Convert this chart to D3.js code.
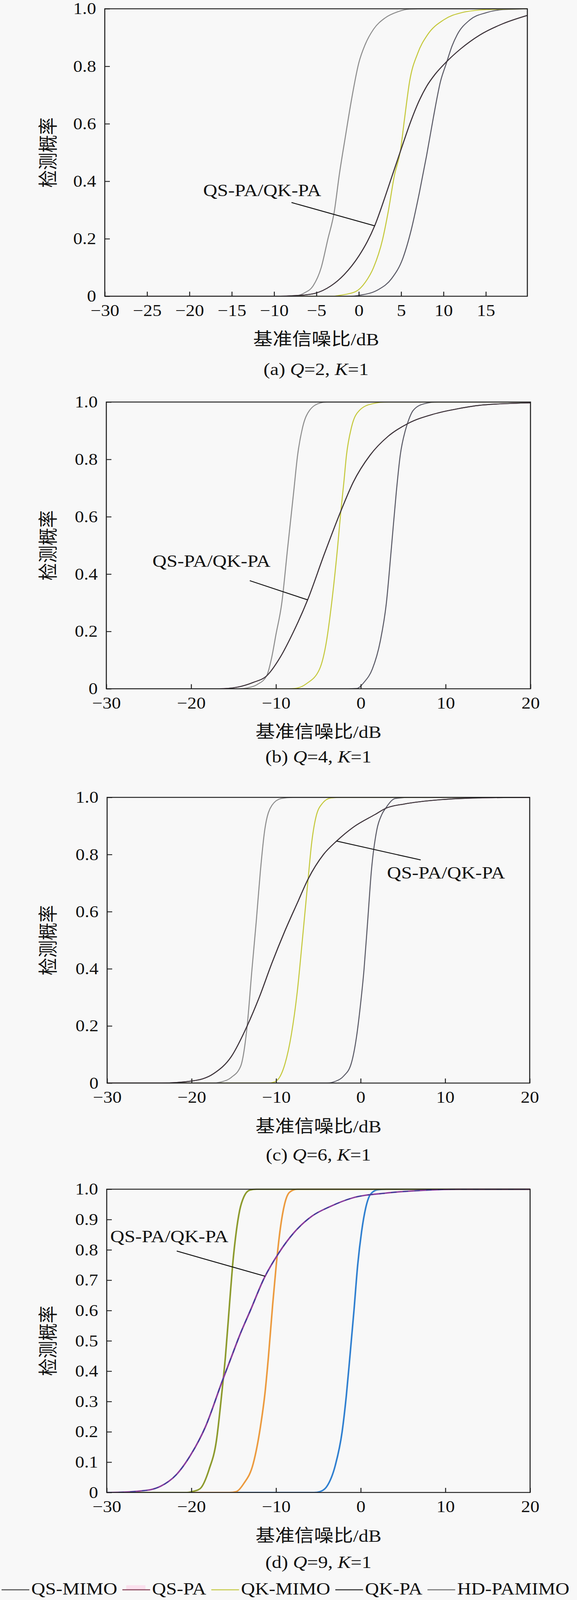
<!DOCTYPE html>
<html>
<head>
<meta charset="utf-8">
<script src="https://cdn.jsdelivr.net/npm/d3@7"></script>
<style>
  html, body { margin: 0; background: #f8f8f8; overflow: hidden; }
  svg { display: block; }
  text { font-family: "Liberation Serif", "Times New Roman", "Noto Sans CJK SC", serif; fill: #111; }
</style>
</head>
<body>
<svg id="chart" width="1476" height="4553"></svg>
<script>
// ---- data: [SNR dB, detection probability] ----
// (a) Q=2
var hdA = [[-30,0],[-8,0],[-7,0.004],[-6.4,0.012],[-5.4,0.036],[-4.44,0.10],[-3.67,0.197],[-2.9,0.294],[-2.3,0.424],[-1.6,0.553],[-0.87,0.683],[0,0.812],[0.77,0.877],[1.74,0.929],[3.09,0.968],[4.63,0.99],[6,0.999],[8,1],[19.9,1]];
var qkMimoA = [[-30,0],[-3,0],[-2.3,0.003],[-0.39,0.016],[0.77,0.049],[1.74,0.10],[2.8,0.197],[3.47,0.294],[4.2,0.42],[4.92,0.508],[5.4,0.618],[6,0.748],[6.95,0.845],[8.1,0.909],[10,0.961],[12.2,0.987],[15.1,0.997],[19.9,1]];
var qsMimoA = [[-30,0],[-1,0],[0,0.003],[2.3,0.023],[3.86,0.061],[5.21,0.133],[6.18,0.23],[7.14,0.359],[8,0.489],[8.78,0.618],[9.65,0.748],[10.33,0.81],[11,0.87],[11.6,0.909],[13.1,0.961],[15.1,0.987],[17,0.997],[19.9,1]];
var paA = [[-30,0],[-10,0],[-7.1,0.003],[-5.2,0.01],[-3.3,0.036],[-1.74,0.075],[0,0.14],[1,0.19],[1.87,0.245],[3.09,0.345],[4,0.425],[4.92,0.505],[6.18,0.612],[7,0.672],[8,0.73],[9,0.772],[10.33,0.815],[12,0.86],[14.3,0.909],[17,0.948],[19.9,0.977]];
// (b) Q=4
var hdB = [[-30,0],[-14.5,0],[-13.4,0.003],[-12.2,0.015],[-11.1,0.045],[-10.5,0.11],[-10,0.19],[-9.33,0.296],[-8.63,0.49],[-7.92,0.685],[-7.45,0.815],[-6.86,0.912],[-6.04,0.971],[-4.75,0.997],[-4,1],[20,1]];
var qkMimoB = [[-30,0],[-8.5,0],[-7.8,0.001],[-6.4,0.018],[-4.86,0.069],[-4.04,0.167],[-3.45,0.296],[-2.75,0.49],[-2.35,0.62],[-2,0.72],[-1.69,0.815],[-1.1,0.912],[-0.16,0.971],[1.36,0.994],[3.2,1],[20,1]];
var qsMimoB = [[-30,0],[-1.5,0],[-0.5,0.001],[0.42,0.024],[1.36,0.069],[2.3,0.167],[3,0.296],[3.6,0.49],[4.18,0.685],[4.65,0.815],[5.24,0.9],[5.55,0.93],[6.18,0.971],[7.47,0.994],[9.1,1],[20,1]];
var paB = [[-30,0],[-16.7,0],[-14.5,0.006],[-12.7,0.022],[-11.1,0.045],[-9.5,0.11],[-8,0.195],[-6.27,0.31],[-4.3,0.47],[-2.35,0.62],[-0.9,0.72],[1.1,0.815],[3.2,0.88],[5.55,0.925],[8.6,0.958],[11.5,0.977],[14.5,0.99],[20,0.997]];
// (c) Q=6
var hdC = [[-30,0],[-17.5,0],[-16.5,0.004],[-15.3,0.02],[-14.2,0.059],[-13.43,0.2],[-12.87,0.395],[-12.35,0.567],[-11.87,0.74],[-11.35,0.886],[-10.5,0.972],[-9.4,0.996],[-8,1],[20,1]];
var qkMimoC = [[-30,0],[-11,0],[-10.2,0.004],[-9.5,0.025],[-8.96,0.067],[-8.2,0.17],[-7.5,0.32],[-6.9,0.5],[-6.22,0.714],[-5.8,0.84],[-5.3,0.93],[-4.5,0.98],[-3.5,0.998],[-2,1],[20,1]];
var qsMimoC = [[-30,0],[-4,0],[-3,0.006],[-2,0.025],[-1.13,0.067],[-0.5,0.16],[0,0.28],[0.39,0.395],[0.83,0.567],[1.26,0.74],[1.91,0.886],[2.5,0.94],[3,0.964],[4.1,0.996],[6,1],[20,1]];
var paC = [[-30,0],[-23.5,0],[-20,0.007],[-17.4,0.033],[-15.3,0.093],[-13.43,0.2],[-12,0.3],[-10.5,0.42],[-9,0.53],[-7.5,0.63],[-6.22,0.714],[-4.4,0.8],[-2.85,0.847],[-0.9,0.895],[1.7,0.94],[3,0.962],[5.2,0.977],[9.5,0.992],[13.9,0.998],[20,1]];
// (d) Q=9
var hdD = [[-30,0],[-20.5,0],[-19.9,0.003],[-19,0.012],[-17.9,0.077],[-17.05,0.17],[-16.4,0.33],[-15.98,0.448],[-15.5,0.62],[-15.13,0.75],[-14.7,0.86],[-14.3,0.93],[-13.8,0.975],[-13.1,0.997],[-12.3,1],[20,1]];
var qkMimoD = [[-30,0],[-15.5,0],[-14.7,0.003],[-13.8,0.03],[-12.7,0.095],[-11.85,0.216],[-11.3,0.33],[-10.9,0.448],[-10.4,0.62],[-9.98,0.75],[-9.5,0.87],[-9,0.95],[-8.4,0.99],[-7.5,1],[20,1]];
var qsMimoD = [[-30,0],[-5.5,0],[-4.8,0.003],[-4,0.02],[-3,0.09],[-2.2,0.2],[-1.7,0.32],[-1.28,0.448],[-0.8,0.6],[-0.36,0.75],[0.1,0.86],[0.6,0.94],[1.2,0.985],[2,0.998],[3,1],[20,1]];
var paD = [[-30,0],[-29.6,0],[-25.3,0.007],[-23.6,0.021],[-21.8,0.058],[-20.1,0.123],[-18.35,0.216],[-16.4,0.364],[-15.3,0.445],[-14.2,0.525],[-13.1,0.596],[-11.4,0.707],[-9.67,0.79],[-7.94,0.855],[-5.77,0.911],[-3.6,0.943],[-1,0.971],[2.9,0.987],[7.2,0.996],[11.6,1],[20,1]];

var seriesNames = ["QS-MIMO", "QS-PA", "QK-MIMO", "QK-PA", "HD-PAMIMO"];
var captionQ = [2, 4, 6, 9];
var xTicksA = [-30, -25, -20, -15, -10, -5, 0, 5, 10, 15];
var xTicksBCD = [-30, -20, -10, 0, 10, 20];
var yTicksABC = [0, 0.2, 0.4, 0.6, 0.8, 1.0];
var yTicksD = [0, 0.1, 0.2, 0.3, 0.4, 0.5, 0.6, 0.7, 0.8, 0.9, 1.0];
var paLabel = "QS-PA/QK-PA";
// label anchor and leader line ends, in data units
var labelPos = [[-18.38, 0.348], [-24.56, 0.425], [3.12, 0.716], [-29.58, 0.825]];
var leaders = [
  [[-7.95, 0.326], [1.87, 0.245]],
  [[-13.09, 0.377], [-6.27, 0.31]],
  [[-2.85, 0.847], [7.1, 0.781]],
  [[-21.73, 0.796], [-11.3, 0.713]]
];

var panelSeries = [
  {"QS-MIMO": qsMimoA, "QS-PA": paA, "QK-MIMO": qkMimoA, "QK-PA": paA, "HD-PAMIMO": hdA},
  {"QS-MIMO": qsMimoB, "QS-PA": paB, "QK-MIMO": qkMimoB, "QK-PA": paB, "HD-PAMIMO": hdB},
  {"QS-MIMO": qsMimoC, "QS-PA": paC, "QK-MIMO": qkMimoC, "QK-PA": paC, "HD-PAMIMO": hdC},
  {"QS-MIMO": qsMimoD, "QS-PA": paD, "QK-MIMO": qkMimoD, "QK-PA": paD, "HD-PAMIMO": hdD}
];

// ---- layout / styles ----
var panels = [
  {id: "a", left: 268, right: 1349, top: 25,   bottom: 843,  xMax: 19.9, xTicks: xTicksA,   yTicks: yTicksABC, capY: 1067},
  {id: "b", left: 272, right: 1357, top: 1144, bottom: 1960, xMax: 20,   xTicks: xTicksBCD, yTicks: yTicksABC, capY: 2170},
  {id: "c", left: 274, right: 1355, top: 2269, bottom: 3082, xMax: 20,   xTicks: xTicksBCD, yTicks: yTicksABC, capY: 3302},
  {id: "d", left: 273, right: 1356, top: 3384, bottom: 4247, xMax: 20,   xTicks: xTicksBCD, yTicks: yTicksD,   capY: 4462}
];

var grayColors = {"QS-MIMO": "#5a5a66", "QS-PA": "#9a3a7a", "QK-MIMO": "#c4c83a", "QK-PA": "#3a3a3a", "HD-PAMIMO": "#8c8c8c"};
var colorD = {"QS-MIMO": "#2f7fd0", "QS-PA": "#8a3d9e", "QK-MIMO": "#ec9a3e", "QK-PA": "#40409a", "HD-PAMIMO": "#8c9a2c"};
var legendColors = {"QS-MIMO": "#555555", "QS-PA": "#8b4a5e", "QK-MIMO": "#c8cc50", "QK-PA": "#333333", "HD-PAMIMO": "#777777"};
var drawOrder = ["QS-MIMO", "QK-MIMO", "HD-PAMIMO", "QS-PA", "QK-PA"];

var W = 1476, H = 4553;
var svg = d3.select("#chart");
// if the window is shorter than the figure, squeeze it so nothing is cut off
var viewH = window.innerHeight;
if (viewH && viewH < H) {
  svg.attr("viewBox", "0 0 " + W + " " + H)
    .attr("preserveAspectRatio", "none")
    .attr("height", viewH);
}
svg.append("rect").attr("width", W).attr("height", H).attr("fill", "#f8f8f8");

var fmtY = function(d) { return d === 0 ? "0" : d3.format(".1f")(d); };

panels.forEach(function(p, i) {
  var x = d3.scaleLinear().domain([-30, p.xMax]).range([p.left, p.right]);
  var y = d3.scaleLinear().domain([0, 1]).range([p.bottom, p.top]);
  var g = svg.append("g").attr("class", "panel-" + p.id);
  var isD = p.id === "d";
  var colors = isD ? colorD : grayColors;
  var lw = isD ? 4 : 2.6;

  g.append("clipPath").attr("id", "clip-" + p.id)
    .append("rect")
    .attr("x", p.left).attr("y", p.top - 2)
    .attr("width", p.right - p.left).attr("height", p.bottom - p.top + 2);

  var line = d3.line()
    .x(function(d) { return x(d[0]); })
    .y(function(d) { return y(d[1]); })
    .curve(d3.curveMonotoneX);

  var curves = g.append("g").attr("clip-path", "url(#clip-" + p.id + ")");
  drawOrder.forEach(function(name) {
    var path = curves.append("path")
      .datum(panelSeries[i][name])
      .attr("d", line)
      .attr("fill", "none")
      .attr("stroke", colors[name])
      .attr("stroke-width", lw)
      .attr("stroke-linejoin", "round");
    if (isD && name === "QK-PA") path.attr("stroke-dasharray", "14,16").attr("stroke-width", lw - 1);
  });

  // axes with inward ticks
  var xAxis = d3.axisBottom(x).tickValues(p.xTicks).tickSize(-13).tickPadding(23);
  var yAxis = d3.axisLeft(y).tickValues(p.yTicks).tickFormat(fmtY).tickSize(-13).tickPadding(22);

  var gx = g.append("g").attr("transform", "translate(0," + p.bottom + ")").call(xAxis);
  var gy = g.append("g").attr("transform", "translate(" + p.left + ",0)").call(yAxis);
  [gx, gy].forEach(function(ax) {
    ax.attr("font-family", null).attr("font-size", null);
    ax.select(".domain").remove();
    ax.selectAll(".tick line").attr("stroke", "#222").attr("stroke-width", 2.5);
    ax.selectAll(".tick text").attr("font-size", 47).attr("fill", "#111")
      .style("font-family", "'Liberation Serif','Times New Roman',serif");
  });

  g.append("rect")
    .attr("x", p.left).attr("y", p.top)
    .attr("width", p.right - p.left).attr("height", p.bottom - p.top)
    .attr("fill", "none").attr("stroke", "#1c1c1c").attr("stroke-width", 2.6);

  // annotation
  var lp = labelPos[i], ld = leaders[i];
  g.append("line")
    .attr("x1", x(ld[0][0])).attr("y1", y(ld[0][1]))
    .attr("x2", x(ld[1][0])).attr("y2", y(ld[1][1]))
    .attr("stroke", "#111").attr("stroke-width", 2.6);
  g.append("text")
    .attr("x", x(lp[0])).attr("y", y(lp[1]))
    .attr("font-size", 50)
    .text(paLabel);

  var cx = (p.left + p.right) / 2;
  g.append("text")
    .attr("x", cx).attr("y", p.bottom + 140)
    .attr("text-anchor", "middle").attr("font-size", 50)
    .text("基准信噪比/dB");

  var cy = (p.top + p.bottom) / 2;
  g.append("text")
    .attr("transform", "translate(141," + cy + ") rotate(-90)")
    .attr("text-anchor", "middle").attr("font-size", 50)
    .text("检测概率");

  var cap = g.append("text")
    .attr("x", cx).attr("y", p.capY)
    .attr("text-anchor", "middle").attr("font-size", 50);
  cap.append("tspan").text("(" + p.id + ") ");
  cap.append("tspan").attr("font-style", "italic").text("Q");
  cap.append("tspan").text("=" + captionQ[i] + ", ");
  cap.append("tspan").attr("font-style", "italic").text("K");
  cap.append("tspan").text("=1");
});

// legend
var legend = svg.append("g").attr("class", "legend");
var lx = 4, lineLen = 71, legY = 4524;
seriesNames.forEach(function(name) {
  if (name === "QS-PA") {
    legend.append("rect").attr("x", lx + 10).attr("y", legY - 13)
      .attr("width", lineLen - 22).attr("height", 12).attr("fill", "#fbe0ee");
  }
  legend.append("line")
    .attr("x1", lx).attr("x2", lx + lineLen)
    .attr("y1", legY).attr("y2", legY)
    .attr("stroke", legendColors[name]).attr("stroke-width", 3.2);
  var t = legend.append("text")
    .attr("x", lx + lineLen + 5).attr("y", 4537)
    .attr("font-size", 49.5)
    .text(name);
  lx += lineLen + 5 + t.node().getComputedTextLength() + 13;
});
</script>
</body>
</html>
